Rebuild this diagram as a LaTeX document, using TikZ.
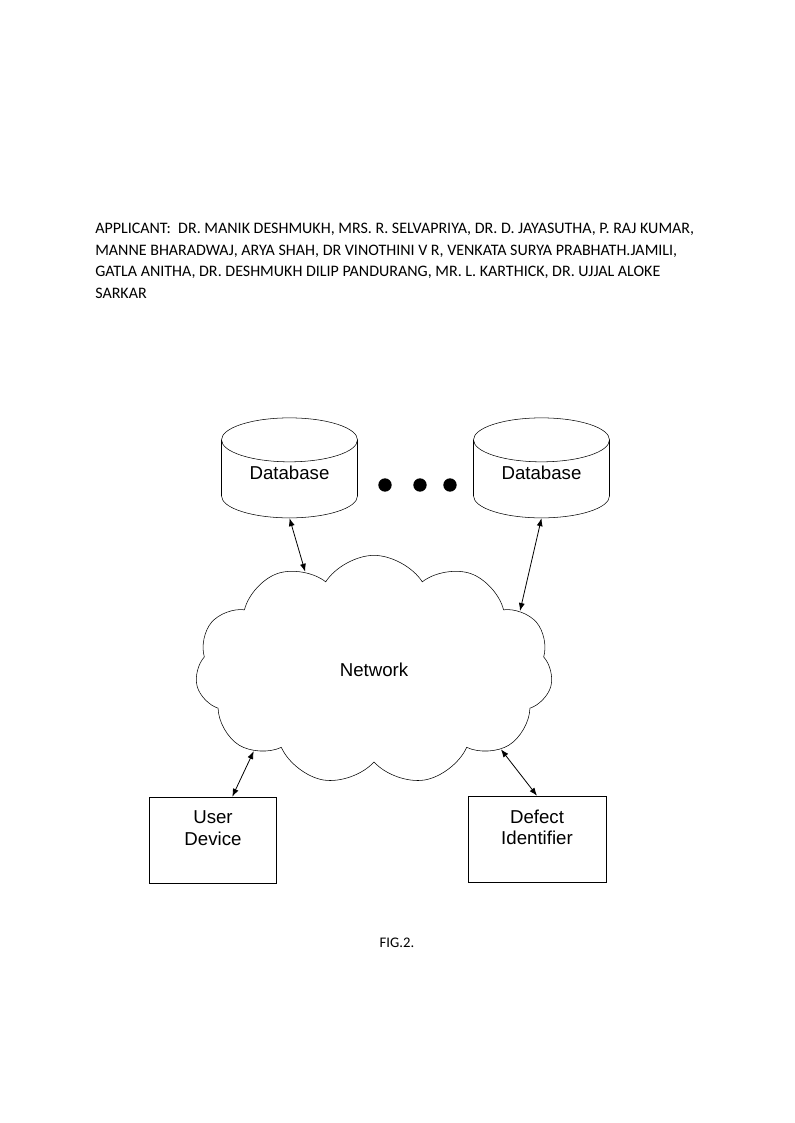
\documentclass[tikz,border=0pt]{standalone}
\usepackage{fontspec}
\setmainfont{Liberation Sans}
\newfontfamily\calfont{Carlito}
\usetikzlibrary{shapes.geometric,shapes.symbols,arrows.meta}

\begin{document}
\begin{tikzpicture}[x=0.75pt,y=-0.75pt,
	every node/.style={font=\fontsize{14}{16}\selectfont},
	db/.style={cylinder,draw,shape border rotate=90,aspect=0.55,minimum width=102pt,minimum height=75pt,inner sep=0,text depth=9pt},
	box/.style={draw,rectangle,minimum width=95pt,minimum height=64.5pt,align=center,text depth=18pt},
	link/.style={{Latex[length=6pt,width=4.5pt]}-{Latex[length=6pt,width=4.5pt]},line width=0.6pt}]
\useasboundingbox (0,0) rectangle (794,1123);
% applicants
\node[anchor=north west,inner sep=0,align=left,font=\calfont\fontsize{12}{16.1}\selectfont] (appl) at (95,223)
	{APPLICANT:\ \ DR. MANIK DESHMUKH, MRS. R. SELVAPRIYA, DR. D. JAYASUTHA, P. RAJ KUMAR,\\
	MANNE BHARADWAJ, ARYA SHAH, DR VINOTHINI V R, VENKATA SURYA PRABHATH.JAMILI,\\
	GATLA ANITHA, DR. DESHMUKH DILIP PANDURANG, MR. L. KARTHICK, DR. UJJAL ALOKE\\
	SARKAR};
% diagram
\node[db] (db1) at (289.5,479) {Database};
\node[db] (db2) at (541.5,479) {Database};
\foreach \x in {385,420,450}
	\fill (\x,485) circle (5pt);
\node[cloud,draw,cloud puffs=11,cloud puff arc=115,aspect=1.55,minimum width=268pt,minimum height=172pt,inner sep=0] (net) at (374,670) {Network};
\node[box] (ud) at (213,840) {User\\Device};
\node[box,minimum width=103.5pt] (di) at (537,839) {Defect\\Identifier};
\draw[link] (db1.south) -- (net.125);
\draw[link] (db2.south) -- (net.22);
\draw[link] (net.214) -- (ud.66);
\draw[link] (net.328) -- (di.north);
\node[font=\calfont\fontsize{11}{13}\selectfont] (fig) at (397,943) {FIG.2.};
\end{tikzpicture}
\end{document}
